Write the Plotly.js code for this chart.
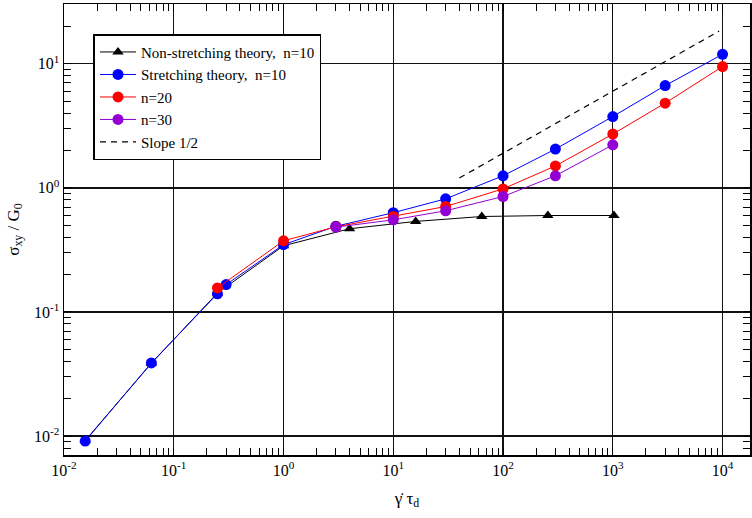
<!DOCTYPE html>
<html>
<head>
<meta charset="utf-8">
<script src="https://cdn.plot.ly/plotly-3.0.1.min.js"></script>
<style>html,body{margin:0;padding:0;background:#fff;}#chart{width:752px;height:518px;}</style>
</head>
<body>
<div id="chart"></div>
<script>
// Non-stretching theory, n=10
const nsX = [0.0156, 0.0625, 0.25, 1, 4, 16, 64, 256, 1024];
const nsY = [0.0092, 0.0385, 0.142, 0.341, 0.468, 0.536, 0.587, 0.598, 0.598];
// Stretching theory, n=10
const s10X = [0.0156, 0.0625, 0.25, 0.3, 1, 3, 10, 30, 100, 300, 1000, 3000, 10000];
const s10Y = [0.0091, 0.0388, 0.140, 0.166, 0.348, 0.49, 0.63, 0.815, 1.25, 2.05, 3.75, 6.66, 11.9];
// n=20
const n20X = [0.25, 1, 3, 10, 30, 100, 300, 1000, 3000, 10000];
const n20Y = [0.156, 0.374, 0.485, 0.587, 0.707, 0.98, 1.50, 2.71, 4.81, 9.48];
// n=30
const n30X = [3, 10, 30, 100, 300, 1000];
const n30Y = [0.482, 0.552, 0.653, 0.851, 1.25, 2.22];
// Slope 1/2 guide
const slopeX = [40, 9300];
const slopeY = [1.2, 18.3];

const names = ["Non-stretching theory,  n=10", "Stretching theory,  n=10", "n=20", "n=30", "Slope 1/2"];
const xTickVals = [0.01, 0.1, 1, 10, 100, 1000, 10000];
const xTickText = ["10<sup>-2</sup>", "10<sup>-1</sup>", "10<sup>0</sup>", "10<sup>1</sup>", "10<sup>2</sup>", "10<sup>3</sup>", "10<sup>4</sup>"];
const yTickVals = [0.01, 0.1, 1, 10];
const yTickText = ["10<sup>-2</sup>", "10<sup>-1</sup>", "10<sup>0</sup>", "10<sup>1</sup>"];

const FONT = "'Liberation Serif', 'Times New Roman', Times, serif";

const traces = [
  {x: nsX, y: nsY, name: names[0], mode: "lines+markers",
   line: {color: "#000000", width: 1}, marker: {symbol: "triangle-up", size: 10, color: "#000000"}},
  {x: s10X, y: s10Y, name: names[1], mode: "lines+markers",
   line: {color: "#0000ff", width: 1}, marker: {symbol: "circle", size: 11, color: "#0000ff"}},
  {x: n20X, y: n20Y, name: names[2], mode: "lines+markers",
   line: {color: "#ff0000", width: 1}, marker: {symbol: "circle", size: 11, color: "#ff0000"}},
  {x: n30X, y: n30Y, name: names[3], mode: "lines+markers",
   line: {color: "#9400d3", width: 1}, marker: {symbol: "circle", size: 11, color: "#9400d3"}},
  {x: slopeX, y: slopeY, name: names[4], mode: "lines",
   line: {color: "#000000", width: 1.2, dash: "6px,5px"}}
];

const axisCommon = {
  type: "log", showline: true, linecolor: "#000", linewidth: 1.5, mirror: "allticks",
  ticks: "inside", ticklen: 0, tickcolor: "#000",
  showgrid: true, gridcolor: "#111", gridwidth: 1.4, zeroline: false,
  tickfont: {family: FONT, size: 16, color: "#000"},
  minor: {ticks: "inside", ticklen: 7, tickcolor: "#000", tickwidth: 1, dtick: "D1", showgrid: false}
};

const layout = {
  width: 752, height: 518,
  margin: {l: 64, r: 2, t: 4, b: 63},
  paper_bgcolor: "#fff", plot_bgcolor: "#fff",
  font: {family: FONT, color: "#000"},
  showlegend: true,
  legend: {x: 0.043, y: 0.933, xanchor: "left", yanchor: "top",
    bgcolor: "#fff", bordercolor: "#000", borderwidth: 1.5,
    font: {family: FONT, size: 15, color: "#000"}, tracegroupgap: 0, itemwidth: 36},
  xaxis: Object.assign({}, axisCommon, {
    range: [-2, 4.25], tickvals: xTickVals, ticktext: xTickText,
    title: {text: "γ̇ τ<sub>d</sub>", font: {family: FONT, size: 17, color: "#000"}, standoff: 14}
  }),
  yaxis: Object.assign({}, axisCommon, {
    range: [-2.153, 1.481], tickvals: yTickVals, ticktext: yTickText,
    title: {text: "σ<sub>xy</sub> / G<sub>0</sub>", font: {family: FONT, size: 17, color: "#000"}, standoff: 10}
  })
};

Plotly.newPlot("chart", traces, layout, {displayModeBar: false, staticPlot: true});
</script>
</body>
</html>
